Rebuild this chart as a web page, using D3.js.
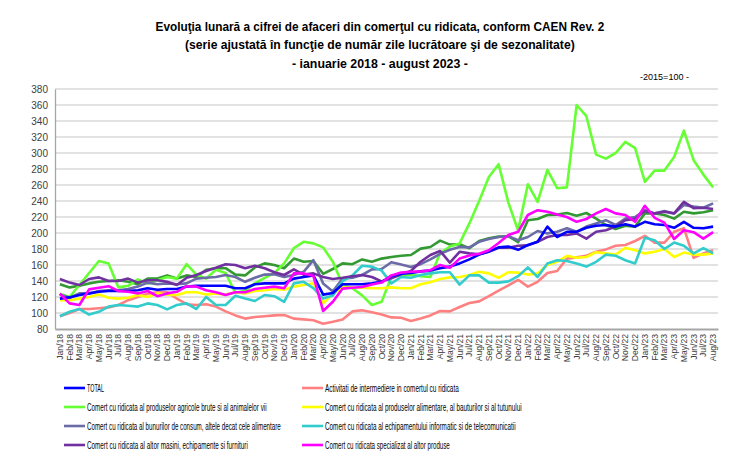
<!DOCTYPE html>
<html><head><meta charset="utf-8">
<script src="https://cdn.jsdelivr.net/npm/d3@7/dist/d3.min.js"></script>
<style>
html,body{margin:0;padding:0;background:#fff;}
svg{display:block;}
</style></head>
<body>
<svg id="c" width="748" height="455"></svg>
<script>
const monthAbbr = ["Jan","Feb","Mar","Apr","May","Jun","Jul","Aug","Sep","Oct","Nov","Dec"];
const years = ["18","19","20","21","22","23"];
const categories = [];
years.forEach(y => monthAbbr.forEach(m => categories.push(m + "/" + y)));
categories.length = 68; // Jan/18 .. Aug/23

const yTicks = [80,100,120,140,160,180,200,220,240,260,280,300,320,340,360,380];

const total = [118,119.5,122.5,124.5,126.5,127.5,127.5,127.5,128.5,131,129,130,130,133,134,134,134,134,131,131,136,137,137,137,143,145,147,123,125,136,136,136,137,139,146,149,150,152,153,156,158,162,167,173,177,182,183,179,185,189,208,195,201.5,201.5,206.5,209,210,208,211,208,214,211,210,206.5,214,206.5,206,208];
const intermediere = [96,100,105,105,106,107,110,116,120,124,126,126,118,111,110,111,108,102,97,93,95,96,97,97.5,93,92,91,86.5,89,92,102,103.5,101,98,94.5,94,90,93,97,102.5,102,107.5,112.5,114.5,121,128,134.5,141.5,133,139,150,152.5,168,169.5,171.5,176.5,179.5,184,185,190,196.5,188,188,201.5,206,169,174.5,178.5];
const agricole = [124,120,135,150,165,162,132,134,142,137,141,145,143,161,148,143,154,150,125,128,137,144,150,162,181,189,187,182,164,135,131,122,110,114,145,147,148,146,145,175,183,187,212,240,270,286,238,203,261,239,279,256,257,360,346,298,293,300,314,306,264,278,278,295,328,291,273,257];
const alimentare = [116,116,118,120,123,119,118,119,122.5,120,124.5,123,122.5,126,126,123,124.5,123,126,124.5,127.5,128.5,130,129,133,135,137,112,124,132,131.5,131.5,131,131,132,131,131,136,138.5,142.5,144.5,145,147.5,151.5,149.5,144,151,150.5,148,149.5,160,164,171.5,169,170,176,174.5,173,181.5,178.5,174.5,176.5,180,170,175.5,173,173,174.5];
const consum = [123,119,124.5,124.5,127.5,128.5,128.5,130,133,138,136,137,136,137,143,144,145,147.5,145,139,144,148,148.5,145,147.5,151.5,166,137,127,143,144,147.5,154.5,155,163.5,160.5,157.5,161,167,174,179,182.5,182,189,192.5,195,196,191,195,202.5,199.5,201.5,206,201.5,208,212,216,210,218,220,228.5,224.5,227.5,224.5,235,233,231.5,237];
const informatic = [96,101.5,105,98,101.5,108,110,109,108,112,110,104.5,110,112,105,120,110,110,121.5,118,115,122.5,121,114,137,139,131,118,122,140,147,159,158,153,137,145,144,147.5,149.5,151,151,135.5,147,147,138,138,139.5,146,157,145,162,166,165,162,158,164,173,171.5,166,162,194,191,180,188,184,174.5,181,174.5];
const masini = [142.5,138,135,142.5,144.5,140,140,143,138,141,141,139,135,144,147.5,152.5,156.5,161,160,156,159,156,151,147.5,154.5,148,149.5,145,142.5,144,146,147.5,145,139.5,143.5,148.5,152.5,164,172.5,177.5,163,176.5,174.5,173.5,176.5,181.5,181.5,184,184.5,189,195,197.5,197.5,199.5,193,201.5,203.5,208,216,217.5,227.5,224.5,226.5,224.5,239,231,231.5,230];
const specializat = [124,112,110,129.5,131.5,133.5,127.5,126.5,124.5,127.5,121,124.5,126.5,133.5,133,128.5,126,122.5,126,126,130,131.5,133,131,149.5,149.5,146.5,102.5,114,130.5,131.5,132.5,135.5,138,147,150.5,151.5,152,153.5,160,156.5,168,172,174,178.5,187.5,197.5,201.5,222.5,228.5,226.5,223,220,214,217.5,224.5,230,224.5,222.5,214,234,219,213,192.5,203.5,201,193,201];
const nespecializat = [136,132,134,137,139,140,141,139,136,143,143,147,143,147,145,154,156,156,148,147,157,162,160,156,168,164,165,149,155,162,161,167,164,168,170,171.5,172.5,180.5,182.5,190.5,185.5,186,181,190,193.5,195.5,196,188.5,216,217.5,222.5,223,225,221.5,225,218,210,205,209,208,224.5,224.5,222.5,218,226.5,224.5,226,228.5];

const seriesNames = [
  "TOTAL",
  "Activitati de intermediere in comertul cu ridicata",
  "Comert cu ridicata al produselor agricole brute si al animalelor vii",
  "Comert cu ridicata al produselor alimentare, al bauturilor si al tutunului",
  "Comert cu ridicata al bunurilor de consum, altele decat cele alimentare",
  "Comert cu ridicata al echipamentului informatic si de telecomunicatii",
  "Comert cu ridicata al altor masini, echipamente si furnituri",
  "Comert cu ridicata specializat al altor produse",
  ""
];
const seriesValues = [total, intermediere, agricole, alimentare, consum, informatic, masini, specializat, nespecializat];
const seriesColors = ["#0000ff","#ff8080","#66ff33","#ffff00","#6b6ba8","#33cccc","#7030a0","#ff00ff","#339933"];
const drawOrder = [8,1,2,3,4,5,6,0,7];

const svg = d3.select("#c");
const L = 55, R = 718, T = 89, B = 329;
const x = d3.scaleBand().domain(categories).range([L, R]).padding(0);
const y = d3.scaleLinear().domain([80, 380]).range([B, T]);
const cx = c => x(c) + x.bandwidth() / 2;

const tf = "'Liberation Sans', Arial, sans-serif";
// place text at (px,py) and squeeze horizontally to width w
function placeFit(sel, px, py, w) {
  const nat = sel.node().getComputedTextLength();
  const s = nat > 0 ? w / nat : 1;
  sel.attr("x", 0).attr("y", 0).attr("transform", `translate(${px},${py}) scale(${s},1)`);
}

// Titles
const titles = ["Evoluţia lunară a cifrei de afaceri din comerţul cu ridicata, conform CAEN Rev. 2",
  "(serie ajustată în funcţie de număr zile lucrătoare şi de sezonalitate)",
  "- ianuarie 2018 - august 2023  -"];
const titleW = [449, 390, 176];
titles.forEach((t, i) => {
  const el = svg.append("text").attr("font-family", tf).attr("font-weight", "bold")
    .attr("font-size", 12.5).attr("fill", "#000").text(t);
  placeFit(el, 380 - titleW[i] / 2, 30.5 + i * 18.5, titleW[i]);
});
placeFit(svg.append("text").attr("font-family", tf).attr("font-size", 9.5)
  .attr("fill", "#000").text("-2015=100 -"), 640, 80, 49);

// Grid
svg.append("g").selectAll("line").data(yTicks.filter(v => v > 80)).join("line")
  .attr("x1", L).attr("x2", R).attr("y1", d => y(d)).attr("y2", d => y(d))
  .attr("stroke", "#d9d9d9").attr("stroke-width", 1.3);

// Y axis
const yAxis = svg.append("g").attr("transform", `translate(${L},0)`)
  .call(d3.axisLeft(y).tickValues(yTicks).tickSize(0).tickPadding(7));
yAxis.select(".domain").attr("stroke", "#a6a6a6").attr("stroke-width", 1.3);
yAxis.selectAll("text").attr("font-family", "Arial, 'Liberation Sans', sans-serif")
  .attr("font-size", 10).attr("fill", "#404040");

// X axis
const xAxis = svg.append("g").attr("transform", `translate(0,${B})`)
  .call(d3.axisBottom(x).tickSize(0).tickPadding(0));
xAxis.select(".domain").attr("stroke", "#a6a6a6").attr("stroke-width", 2);
xAxis.selectAll("text")
  .attr("font-family", "Arial, 'Liberation Sans', sans-serif")
  .attr("font-size", 8.6).attr("fill", "#404040")
  .attr("text-anchor", "end").attr("dy", null)
  .attr("transform", "translate(3,5) rotate(-90)")
  .attr("y", 0).attr("x", 0);

// Lines
const line = d3.line().x((d, i) => cx(categories[i])).y(d => y(d));
drawOrder.forEach(k => {
  svg.append("path").datum(seriesValues[k]).attr("d", line)
    .attr("fill", "none").attr("stroke", seriesColors[k]).attr("stroke-width", 2.6)
    .attr("stroke-linejoin", "round");
});

// Legend
const legendPos = [[64, 388],[302, 388],[64, 407],[302, 407],[64, 426],[302, 426],[64, 445],[302, 445]];
const legendW = [17, 134, 180, 197, 194, 191, 161, 125];
for (let k = 0; k < 8; k++) {
  const [lx, ly] = legendPos[k];
  svg.append("line").attr("x1", lx).attr("x2", lx + 21).attr("y1", ly).attr("y2", ly)
    .attr("stroke", seriesColors[k]).attr("stroke-width", 2.6);
  const t = svg.append("text").attr("font-family", tf)
    .attr("font-size", 10).attr("fill", "#000").text(seriesNames[k]);
  placeFit(t, lx + 23, ly + 3.5, legendW[k]);
}
</script>
</body></html>
